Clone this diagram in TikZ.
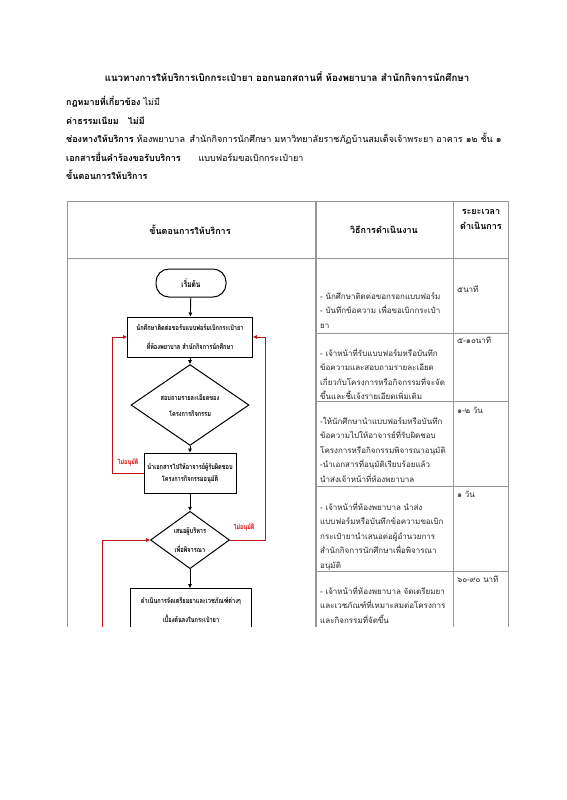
\documentclass[tikz,border=0pt]{standalone}
\usepackage{fontspec}
\setmainfont[Script=Thai]{Loma}
\newfontfamily\flowfont[Script=Thai,FakeStretch=0.78]{Loma}
\usetikzlibrary{shapes.geometric,arrows.meta}

\definecolor{tablegray}{RGB}{150,150,150}
\definecolor{flowred}{RGB}{190,20,20}
\definecolor{labelred}{RGB}{215,0,0}

\tikzset{
  info/.style={anchor=west, inner sep=0pt, font=\fontsize{9}{12}\selectfont},
  headtext/.style={inner sep=0pt, font=\bfseries\fontsize{9}{15}\selectfont},
  tline/.style={draw=tablegray, line width=0.8pt},
  cell/.style={anchor=north west, align=left, inner sep=0pt, text=black!85, font=\fontsize{8}{14.5}\selectfont, execute at begin node=\rule{0pt}{10pt}},
  timecell/.style={anchor=west, inner sep=0pt, text=black!85, font=\fontsize{8}{10}\selectfont},
  startbox/.style={draw, line width=1pt, rectangle, rounded corners=13pt, minimum width=70pt, minimum height=28pt, font=\flowfont\bfseries\fontsize{8.5}{10}\selectfont},
  procbox/.style={draw, line width=1pt, rectangle, align=center, inner sep=0pt, font=\flowfont\bfseries\fontsize{7.2}{19}\selectfont},
  decision/.style={draw, line width=1pt, diamond, align=center, inner sep=0pt, font=\flowfont\bfseries\fontsize{7.2}{16}\selectfont},
  flow/.style={-{Triangle[length=4pt,width=3.5pt]}, line width=0.9pt},
  noflow/.style={flow, draw=flowred, line width=1pt},
  nolabel/.style={inner sep=0pt, text=labelred, font=\flowfont\bfseries\fontsize{7}{9}\selectfont}
}

\begin{document}
\begin{tikzpicture}[x=1pt,y=-1pt]
  \useasboundingbox (0,0) rectangle (566,800);

  % heading lines
  \node[font=\bfseries\fontsize{9.7}{12}\selectfont, inner sep=0pt] (title) at (287,77) {แนวทางการให้บริการเบิกกระเป๋ายา ออกนอกสถานที่ ห้องพยาบาล สำนักกิจการนักศึกษา};
  \node[info] (law) at (66,102) {\textbf{กฎหมายที่เกี่ยวข้อง} ไม่มี};
  \node[info] (fee) at (66,121) {\textbf{ค่าธรรมเนียม\quad ไม่มี}};
  \node[info] (place) at (66,139) {\textbf{ช่องทางให้บริการ} ห้องพยาบาล\enspace สำนักกิจการนักศึกษา มหาวิทยาลัยราชภัฏบ้านสมเด็จเจ้าพระยา อาคาร ๑๒ ชั้น ๑};
  \node[info] (docs) at (66,157) {\textbf{เอกสารยื่นคำร้องขอรับบริการ}\qquad แบบฟอร์มขอเบิกกระเป๋ายา};
  \node[info] (steps) at (66,175) {\textbf{ขั้นตอนการให้บริการ}};

  \begin{scope}
    \clip (0,0) rectangle (566,626);

    % table
    \draw[tline] (67,640) -- (67,201) -- (508,201) -- (508,640);
    \draw[tline] (67,258) -- (508,258);
    \draw[tline, line width=1.4pt] (316,201) -- (316,640);
    \draw[tline] (453,201) -- (453,640);
    \foreach \y in {333,401,486,571}
      \draw[tline] (316,\y) -- (508,\y);

    \node[headtext] (colstep) at (190,230) {ขั้นตอนการให้บริการ};
    \node[headtext] (colhow) at (384,230) {วิธีการดำเนินงาน};
    \node[headtext, align=center] (coltime) at (481,219) {ระยะเวลา\\ดำเนินการ};

    % flow chart
    \node[startbox] (start) at (191,283) {เริ่มต้น};
    \node[procbox, minimum width=125pt, minimum height=40pt] (ask) at (190,337) {นักศึกษาติดต่อขอรับแบบฟอร์มเบิกกระเป๋ายา\\ที่ห้องพยาบาล สำนักกิจการนักศึกษา};
    \node[decision, minimum width=118pt, minimum height=55pt] (detail) at (190,405) {สอบถามรายละเอียดของ\\โครงการกิจกรรม};
    \node[procbox, minimum width=92pt, minimum height=40pt, font=\flowfont\bfseries\fontsize{7.2}{12}\selectfont] (approve) at (190,473) {นำเอกสารไปให้อาจารย์ผู้รับผิดชอบ\\โครงการกิจกรรมอนุมัติ};
    \node[decision, minimum width=79pt, minimum height=56pt, font=\flowfont\bfseries\fontsize{7.2}{19}\selectfont] (boss) at (190,540) {เสนอผู้บริหาร\\เพื่อพิจารณา};
    \node[procbox, minimum width=121pt, minimum height=42pt, anchor=north] (prepare) at (191,588) {ดำเนินการจัดเตรียมยาและเวชภัณฑ์ต่างๆ\\เบื้องต้นลงในกระเป๋ายา};

    \draw[flow] (start) -- (ask);
    \draw[flow] (ask) -- (detail);
    \draw[flow] (detail) -- (approve);
    \draw[flow] (approve) -- (boss);
    \draw[flow] (boss) -- (prepare.north -| boss);

    % not approved
    \draw[noflow] (approve.west) -- ++(-31,0) |- (ask.west);
    \draw[noflow] (boss.east) -- ++(35,0) |- (ask.east);
    \coordinate (back) at (102,650);
    \draw[noflow] (back) |- (boss.west);
    \node[nolabel] (noleft) at (128,463) {ไม่อนุมัติ};
    \node[nolabel] (noright) at (244,528) {ไม่อนุมัติ};

    % how it is done
    \node[cell] (how1) at (320,292) {- นักศึกษาติดต่อขอกรอกแบบฟอร์ม\\- บันทึกข้อความ เพื่อขอเบิกกระเป๋า\\ยา};
    \node[cell] (how2) at (320,348) {- เจ้าหน้าที่รับแบบฟอร์มหรือบันทึก\\ข้อความและสอบถามรายละเอียด\\เกี่ยวกับโครงการหรือกิจกรรมที่จะจัด\\ขึ้นและชี้แจ้งรายเอียดเพิ่มเติม};
    \node[cell] (how3) at (320,417) {-ให้นักศึกษานำแบบฟอร์มหรือบันทึก\\ข้อความไปให้อาจารย์ที่รับผิดชอบ\\โครงการหรือกิจกรรมพิจารณาอนุมัติ\\-นำเอกสารที่อนุมัติเรียบร้อยแล้ว\\นำส่งเจ้าหน้าที่ห้องพยาบาล};
    \node[cell] (how4) at (320,502) {- เจ้าหน้าที่ห้องพยาบาล นำส่ง\\แบบฟอร์มหรือบันทึกข้อความขอเบิก\\กระเป๋ายานำเสนอต่อผู้อำนวยการ\\สำนักกิจการนักศึกษาเพื่อพิจารณา\\อนุมัติ};
    \node[cell] (how5) at (320,586) {- เจ้าหน้าที่ห้องพยาบาล จัดเตรียมยา\\และเวชภัณฑ์ที่เหมาะสมต่อโครงการ\\และกิจกรรมที่จัดขึ้น};

    % time
    \node[timecell] (time1) at (457,289) {๕นาที};
    \node[timecell] (time2) at (457,340) {๕-๑๐นาที};
    \node[timecell] (time3) at (457,410) {๑-๒ วัน};
    \node[timecell] (time4) at (457,494) {๑ วัน};
    \node[timecell] (time5) at (457,579) {๖๐-๙๐ นาที};
  \end{scope}
\end{tikzpicture}
\end{document}
